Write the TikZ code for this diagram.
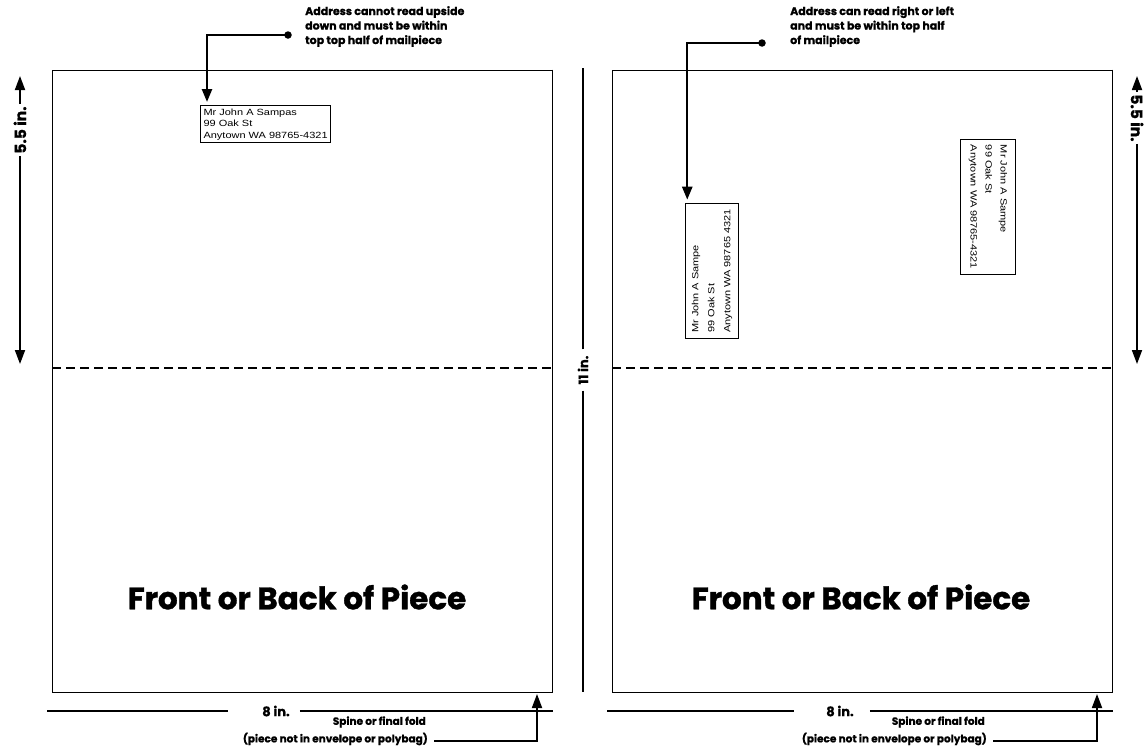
\documentclass[tikz,border=0pt]{standalone}
\usepackage{fontspec}
\setmainfont{Liberation Sans}
\newfontfamily\callfont[BoldFeatures={FakeBold=1}]{Poppins}
\newfontfamily\addrfont[FakeStretch=1.22]{Liberation Sans}
\usetikzlibrary{arrows.meta}
\tikzset{
  panel/.style={draw, line width=0.8pt, inner sep=0pt, minimum width=500pt, minimum height=622pt},
  spineedge/.style={line width=1.8pt},
  fold/.style={line width=2.6pt, dash pattern=on 9pt off 5pt},
  addr/.style={draw, line width=1.1pt, align=left, inner sep=3pt, font=\addrfont\fontsize{9}{11.5}\selectfont},
  callarrow/.style={line width=2.4pt, -{Triangle[length=13pt,width=10pt]}, shorten >=3pt},
  dot/.style={circle, fill, inner sep=0pt, minimum size=7.5pt},
  calltext/.style={font=\callfont\bfseries\fontsize{11}{14.5}\selectfont, align=left, anchor=north west, inner sep=0pt},
  bigtext/.style={font=\callfont\bfseries\fontsize{31}{34}\selectfont},
  dimtext/.style={font=\callfont\bfseries\fontsize{15.5}{17}\selectfont, inner sep=2pt},
  smalldim/.style={font=\callfont\bfseries\fontsize{13}{15}\selectfont, inner ysep=3pt, inner xsep=4pt},
  dimline/.style={line width=1.6pt},
  dimarrow/.style={line width=1.8pt, -{Triangle[length=14pt,width=10pt]}},
  spinetext/.style={font=\callfont\bfseries\fontsize{10.5}{12}\selectfont, anchor=east, inner sep=0pt},
  spinearrow/.style={line width=1.8pt, -{Triangle[length=14pt,width=10pt]}}
}
\begin{document}
\begin{tikzpicture}[x=1pt,y=-1pt]
\useasboundingbox (0,0) rectangle (1148,750);

% ---------- left panel ----------
\node[panel] (LP) at (302,381) {};
\draw[spineedge] (LP.north east) -- (LP.south east);
\coordinate (LF1) at (52,368);
\coordinate (LF2) at (552,368);
\draw[fold] (LF1) -- (LF2);

\node[addr, anchor=north west] (LA) at (200,105) {Mr John A Sampas\\99 Oak St\\Anytown WA 98765-4321};
\node[dot] (LD) at (288,35) {};
\draw[callarrow] (LD.center) -| ([xshift=7pt]LA.north west);
\node[calltext] (LC) at (305,6) {Address cannot read upside\\down and must be within\\top top half of mailpiece};

\node[bigtext] (LB) at (297,597) {Front or Back of Piece};

% left 5.5 in
\node[dimtext, rotate=90] (L55) at (20,130) {5.5 in.};
\coordinate (L55t) at (20,76);
\coordinate (L55b) at (20,364);
\draw[dimarrow] (L55.east) -- (L55t);
\draw[dimarrow] (L55.west) -- (L55b);

% left 8 in
\node[smalldim] (L8) at (276,711) {8 in.};
\coordinate (L8a) at (47,711);
\coordinate (L8b) at (553,711);
\draw[dimline] (L8a) -- ([xshift=-30pt]L8.west);
\draw[dimline] ([xshift=6pt]L8.east) -- (L8b);

\node[spinetext] (LS1) at (426,722) {Spine or final fold};
\node[spinetext] (LS2) at (428,739) {(piece not in envelope or polybag)};
\coordinate (LSs) at (434,741);
\coordinate (LSe) at (537,694);
\draw[spinearrow] (LSs) -| (LSe);

% ---------- middle 11 in ----------
\node[smalldim, rotate=90, inner xsep=6pt] (M11) at (583,370) {11 in.};
\coordinate (M11t) at (583,68);
\coordinate (M11b) at (583,692);
\draw[line width=2pt] (M11.east) -- (M11t);
\draw[line width=2pt] (M11.west) -- (M11b);

% ---------- right panel ----------
\node[panel] (RP) at (862,381) {};
\draw[spineedge] (RP.north east) -- (RP.south east);
\coordinate (RF1) at (612,368);
\coordinate (RF2) at (1112,368);
\draw[fold] (RF1) -- (RF2);

\node[addr, rotate=90, inner xsep=6pt, inner ysep=6pt, font=\addrfont\fontsize{9}{16}\selectfont] (RA) at (712,271) {Mr John A Sampe\\99 Oak St\\Anytown WA 98765 4321};
\node[dot] (RD) at (762,43) {};
\draw[callarrow] (RD.center) -| ([xshift=2pt]RA.north east);
\node[calltext] (RC) at (790,6) {Address can read right or left\\and must be within top half\\of mailpiece};

\node[addr, rotate=-90, inner xsep=5pt, inner ysep=8pt, font=\addrfont\fontsize{9}{15}\selectfont] (RB) at (988,207) {Mr John A Sampe\\99 Oak St\\Anytown WA 98765-4321};

\node[bigtext] (RBk) at (861,597) {Front or Back of Piece};

% right 5.5 in
\node[dimtext, rotate=-90] (R55) at (1137,118) {5.5 in.};
\coordinate (R55t) at (1137,76);
\coordinate (R55b) at (1137,364);
\draw[dimarrow] (R55.west) -- (R55t);
\draw[dimarrow] (R55.east) -- (R55b);

% right 8 in
\node[smalldim] (R8) at (840,711) {8 in.};
\coordinate (R8a) at (607,711);
\coordinate (R8b) at (1113,711);
\draw[dimline] (R8a) -- ([xshift=-28pt]R8.west);
\draw[dimline] ([xshift=12pt]R8.east) -- (R8b);

\node[spinetext] (RS1) at (985,722) {Spine or final fold};
\node[spinetext] (RS2) at (987,739) {(piece not in envelope or polybag)};
\coordinate (RSs) at (993,741);
\coordinate (RSe) at (1097,694);
\draw[spinearrow] (RSs) -| (RSe);
\end{tikzpicture}
\end{document}
